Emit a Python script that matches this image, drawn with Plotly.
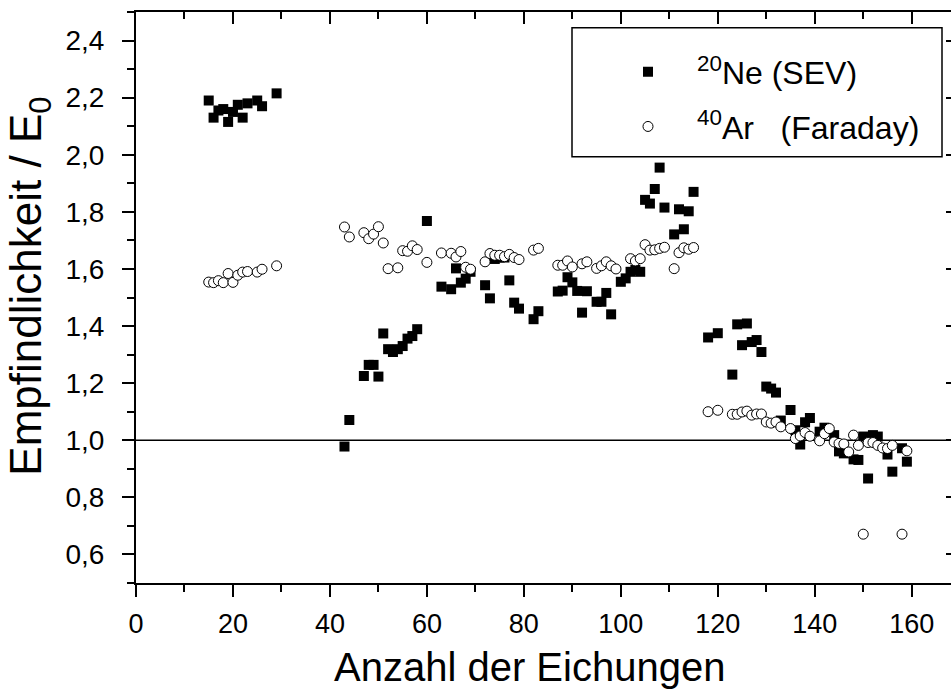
import plotly.graph_objects as go

# ---- data ----
ne_x = [15, 16, 17, 18, 19, 20, 21, 22, 23, 25, 26, 29,
        43, 44, 47, 48, 49, 50, 51, 52, 53, 54, 55, 56, 57, 58, 60,
        63, 65, 66, 67, 68, 69, 72, 73, 74, 75, 76, 77, 78, 79, 82, 83,
        87, 88, 89, 90, 91, 92, 93, 95, 96, 97, 98, 100, 101, 102, 103, 104,
        105, 106, 107, 108, 109, 111, 112, 113, 114, 115,
        118, 120, 123, 124, 125, 126, 127, 128, 129, 130, 131, 132, 133, 135,
        136, 137, 138, 139, 141, 142, 144, 145, 146, 148, 149, 150, 151, 152,
        153, 155, 156, 158, 159]
ne_y = [2.19, 2.13, 2.155, 2.16, 2.115, 2.15, 2.175, 2.13, 2.18, 2.19, 2.17, 2.215,
        0.978, 1.071, 1.225, 1.264, 1.264, 1.223, 1.374, 1.319, 1.309, 1.319, 1.330,
        1.356, 1.365, 1.389, 1.768,
        1.538, 1.529, 1.602, 1.552, 1.566, 1.59, 1.543, 1.497, 1.635, 1.64, 1.64,
        1.560, 1.482, 1.461, 1.424, 1.452,
        1.521, 1.524, 1.571, 1.553, 1.523, 1.447, 1.522, 1.485, 1.485, 1.516, 1.441,
        1.555, 1.567, 1.590, 1.597, 1.590,
        1.842, 1.829, 1.880, 1.955, 1.815, 1.721, 1.809, 1.739, 1.802, 1.870,
        1.36, 1.375, 1.230, 1.406, 1.333, 1.409, 1.344, 1.351, 1.309, 1.188, 1.181,
        1.167, 1.069, 1.106,
        1.035, 0.985, 1.063, 1.078, 1.030, 1.044, 1.018, 0.961, 0.954, 0.933, 0.931,
        1.013, 0.866, 1.018,
        1.013, 0.950, 0.890, 0.972, 0.925]

ar_x = [15, 16, 17, 18, 19, 20, 21, 22, 23, 25, 26, 29,
        43, 44, 47, 48, 49, 50, 51, 52, 54, 55, 56, 57, 58, 60,
        63, 65, 66, 67, 68, 69, 72, 73, 74, 75, 76, 77, 78, 79, 82, 83,
        87, 88, 89, 90, 92, 93, 95, 96, 97, 98, 99, 102, 103, 104, 105, 106, 107,
        108, 109, 111, 112, 113, 114, 115,
        118, 120, 123, 124, 125, 126, 127, 128, 129, 130, 131, 132, 133, 135, 136,
        137, 138, 139, 141, 142, 143, 144, 145, 146, 147, 148, 149, 150, 151, 152,
        153, 154, 155, 156, 158, 159]
ar_y = [1.554, 1.552, 1.559, 1.552, 1.584, 1.553, 1.578, 1.589, 1.591, 1.589, 1.599, 1.611,
        1.747, 1.712, 1.727, 1.706, 1.722, 1.748, 1.691, 1.601, 1.604, 1.664, 1.662,
        1.681, 1.668, 1.623,
        1.656, 1.655, 1.642, 1.661, 1.606, 1.599, 1.625, 1.654, 1.648, 1.648, 1.643,
        1.651, 1.640, 1.633, 1.666, 1.672,
        1.613, 1.613, 1.628, 1.607, 1.618, 1.625, 1.602, 1.611, 1.625, 1.611, 1.600,
        1.636, 1.628, 1.636, 1.685, 1.666, 1.667,
        1.672, 1.676, 1.601, 1.657, 1.674, 1.669, 1.675,
        1.10, 1.105, 1.091, 1.091, 1.099, 1.102, 1.088, 1.092, 1.092, 1.064, 1.060,
        1.064, 1.047, 1.041, 1.006,
        1.015, 1.027, 1.014, 0.998, 1.023, 1.041, 0.994, 0.989, 0.987, 0.959, 1.018,
        0.982, 0.671, 0.992, 0.992,
        0.982, 0.973, 0.971, 0.982, 0.671, 0.963]

ne_name = "<sup>20</sup>Ne (SEV)"
ar_name = "<sup>40</sup>Ar&nbsp;&nbsp;&nbsp;(Faraday)"
x_title = "Anzahl der Eichungen"
y_title = "Empfindlichkeit / E<sub>0</sub>"
x_range = [0, 168.1]
y_range = [0.5, 2.5]

FONT = "Liberation Sans, Arial, sans-serif"

fig = go.Figure()
fig.add_trace(go.Scatter(
    x=ne_x, y=ne_y, mode="markers", name=ne_name, legendgroup="ne",
    marker=dict(symbol="square", size=10, color="black", line=dict(width=0)),
))
fig.add_trace(go.Scatter(
    x=ar_x, y=ar_y, mode="markers", name=ar_name, legendgroup="ar",
    marker=dict(symbol="circle", size=10, color="white",
                line=dict(width=1, color="black")),
))
# helper trace for the mirrored (top/right) axes
fig.add_trace(go.Scatter(x=[], y=[], xaxis="x2", yaxis="y2",
                         showlegend=False, hoverinfo="skip"))

axis_common = dict(showgrid=False, zeroline=False, linecolor="black",
                   tickcolor="black")

fig.update_layout(
    width=951, height=691,
    margin=dict(l=136, r=0, t=12, b=108),
    paper_bgcolor="white", plot_bgcolor="white",
    separators=",.",
    showlegend=True,
    legend=dict(x=(599 - 136) / 815, y=0.943, xanchor="left", yanchor="top",
                bgcolor="rgba(0,0,0,0)", borderwidth=0,
                font=dict(family=FONT, size=32, color="black"),
                itemwidth=88,
                traceorder="grouped", tracegroupgap=10),
    xaxis=dict(range=x_range, dtick=20, tick0=0, showline=True, linewidth=2,
               ticks="outside", ticklen=12, tickwidth=2, ticklabelstandoff=4,
               tickfont=dict(family=FONT, size=27, color="black"),
               minor=dict(dtick=10, ticks="outside", ticklen=7, tickwidth=2, tickcolor="black"),
               **axis_common),
    yaxis=dict(range=y_range, dtick=0.2, tickformat=".1f", showline=True, linewidth=2,
               ticks="outside", ticklen=12, tickwidth=2, ticklabelstandoff=12,
               tickfont=dict(family=FONT, size=28, color="black"),
               minor=dict(dtick=0.1, ticks="outside", ticklen=7, tickwidth=2, tickcolor="black"),
               **axis_common),
    xaxis2=dict(range=x_range, overlaying="x", side="top", anchor="y2",
                dtick=20, tick0=0, showline=True, linewidth=2, showticklabels=False,
                ticks="inside", ticklen=12, tickwidth=2,
                minor=dict(dtick=10, ticks="inside", ticklen=7, tickwidth=2, tickcolor="black"),
                **axis_common),
    yaxis2=dict(range=y_range, overlaying="y", side="right", anchor="x2",
                dtick=0.2, showline=False, showticklabels=False,
                ticks="inside", ticklen=5, tickwidth=2,
                **axis_common),
    shapes=[
        dict(type="line", xref="paper", x0=0, x1=1, yref="y", y0=1.0, y1=1.0,
             line=dict(color="black", width=1.5), layer="below"),
        dict(type="rect", xref="paper", yref="paper",
             x0=(572 - 136) / 815, x1=(942 - 136) / 815,
             y0=(583.3 - 157) / 571, y1=(583.3 - 28) / 571,
             line=dict(color="black", width=1.5), fillcolor="white", layer="below"),
    ],
    annotations=[
        dict(text=x_title, xref="paper", yref="paper",
             x=(529 - 136) / 815, y=(583.3 - 667) / 571,
             xanchor="center", yanchor="middle", showarrow=False,
             font=dict(family=FONT, size=40, color="black")),
        dict(text=y_title, xref="paper", yref="paper", textangle=-90,
             x=(29 - 136) / 815, y=(583.3 - 287) / 571,
             xanchor="center", yanchor="middle", showarrow=False,
             font=dict(family=FONT, size=44, color="black")),
    ],
)

fig.write_html("out.html")
